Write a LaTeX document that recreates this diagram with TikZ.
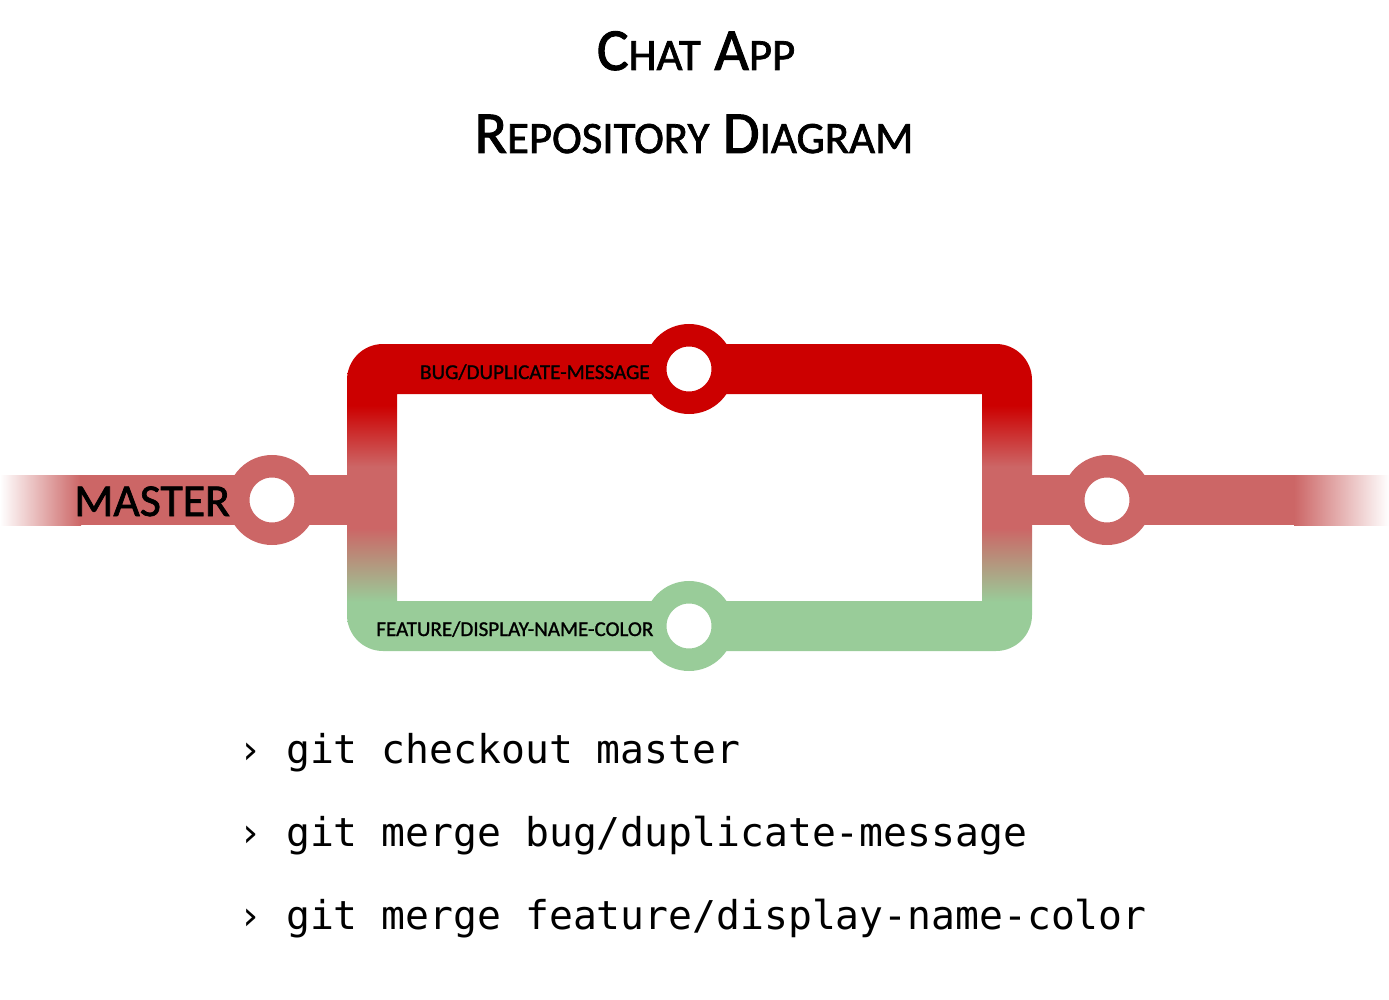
\documentclass[tikz,border=0pt]{standalone}
\usepackage{fontspec}
\setmainfont{Carlito}
\setmonofont{DejaVu Sans Mono}
\newfontfamily\heavyfont{Carlito}[FakeBold=1.6]
\newfontfamily\labelfont{Carlito}[FakeBold=1.2]
\definecolor{bugred}{HTML}{CC0000}
\definecolor{masterred}{HTML}{CC6666}
\definecolor{featgreen}{HTML}{99CC99}
\pgfdeclareverticalshading{branchfade}{100bp}{color(0bp)=(featgreen); color(33bp)=(featgreen); color(45bp)=(masterred); color(55bp)=(masterred); color(65bp)=(bugred); color(100bp)=(bugred)}
\newcommand{\smallcapword}[2]{#1{\fontsize{25.5}{25.5}\selectfont #2}}
\tikzset{
  commit/.style={circle, draw=#1, fill=white, line width=0.45cm, minimum size=1.35cm, inner sep=0pt},
  trunk/.style={masterred, line width=1cm},
  titletext/.style={anchor=base, font=\heavyfont\fontsize{34}{34}\selectfont},
  branchlabel/.style={font=\labelfont\fontsize{12}{12}\selectfont, inner sep=0pt},
  gitcmd/.style={font=\ttfamily\fontsize{22.6}{24}\selectfont, anchor=base west, inner sep=0pt}
}
\begin{document}
\begin{tikzpicture}[x=0.02cm, y=-0.02cm]
  \useasboundingbox (0,0) rectangle (1389,1000);
  \node[titletext] (title) at (696,70) {\smallcapword{C}{HAT} \smallcapword{A}{PP}};
  \node[titletext] (subtitle) at (694,153) {\smallcapword{R}{EPOSITORY} \smallcapword{D}{IAGRAM}};

  \coordinate (fadeL) at (80,500);
  \coordinate (forkL) at (347,500);
  \coordinate (forkR) at (1032,500);
  \coordinate (fadeR) at (1295,500);
  \shade[left color=white, right color=masterred] (0,475) rectangle (81,525);
  \shade[left color=masterred, right color=white] (1294,475) rectangle (1389,525);
  \draw[trunk] (fadeL) -- (forkL);
  \draw[trunk] (forkR) -- (fadeR);
  \shade[shading=branchfade, even odd rule] [rounded corners=0.72cm] (347,344) rectangle (1032,651) [sharp corners] (397,394) rectangle (982,601);

  \node[commit=masterred] (m1) at (272,500) {};
  \node[commit=masterred] (m2) at (1107,500) {};
  \node[commit=bugred] (bugfix) at (689,369) {};
  \node[commit=featgreen] (feature) at (689,626) {};

  \node[font=\heavyfont\fontsize{26}{26}\selectfont, anchor=base west, inner sep=0pt] (masterlbl) at (74,516) {MASTER};
  \node[branchlabel, anchor=base east] (buglbl) at (650,379) {BUG/DUPLICATE-MESSAGE};
  \node[branchlabel, anchor=base west] (featlbl) at (376,636) {FEATURE/DISPLAY-NAME-COLOR};

  \node[gitcmd] (cmd1) at (238,763) {› git checkout master};
  \node[gitcmd] (cmd2) at (238,846) {› git merge bug/duplicate-message};
  \node[gitcmd] (cmd3) at (238,929) {› git merge feature/display-name-color};
\end{tikzpicture}
\end{document}
